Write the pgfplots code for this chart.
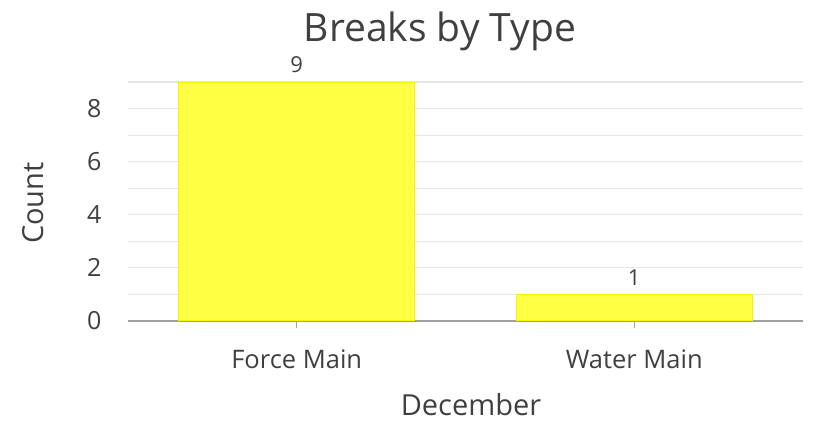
\documentclass[border=0pt]{standalone}
\usepackage{pgfplots}
\pgfplotsset{compat=1.18}
\usepackage{fontspec}
\setmainfont{Open Sans}
\definecolor{txt}{HTML}{404040}
\definecolor{grd}{HTML}{E6E6E6}
\definecolor{barfill}{HTML}{FFFF44}
\definecolor{barline}{HTML}{FFF000}
\definecolor{axl}{HTML}{A0A0A0}
\begin{document}
\begin{tikzpicture}
\useasboundingbox (-128pt,-104pt) rectangle (686pt,321pt);
\begin{axis}[
  scale only axis, width=675pt, height=239pt,
  xmin=-0.5, xmax=1.5, ymin=0, ymax=9,
  axis x line*=bottom, axis y line*=left,
  x axis line style={draw=axl, line width=1.2pt, -},
  y axis line style={draw=none},
  xtick={0,1}, xticklabels={Force Main, Water Main},
  ytick={0,2,4,6,8}, minor ytick={1,3,5,7,9},
  ymajorgrids, yminorgrids,
  major grid style={draw=grd, line width=1.2pt},
  minor grid style={draw=grd, line width=1.2pt},
  ytick style={draw=none}, minor tick length=0pt,
  xtick style={draw=axl, line width=1pt},
  tick align=outside, major tick length=7pt,
  xticklabel style={font=\fontsize{25.5}{30}\selectfont, text=txt, yshift=-18pt},
  yticklabel style={font=\fontsize{25}{30}\selectfont, text=txt, anchor=east, xshift=-16pt},
  /pgf/number format/assume math mode=true,
  ybar, bar width=0.7,
  nodes near coords,
  nodes near coords style={font=\fontsize{22}{26}\selectfont, text=txt, yshift=5pt},
  clip=false,
]
\addplot[fill=barfill, draw=barline, line width=1pt] coordinates {(0,9) (1,1)};
\end{axis}
\node[font=\fontsize{39}{46}\selectfont, text=txt] at (312pt,290pt) {Breaks by Type};
\node[font=\fontsize{29}{34}\selectfont, text=txt, rotate=90] at (-95pt,118pt) {Count};
\node[font=\fontsize{29}{34}\selectfont, text=txt] at (343pt,-84pt) {December};
\end{tikzpicture}
\end{document}
